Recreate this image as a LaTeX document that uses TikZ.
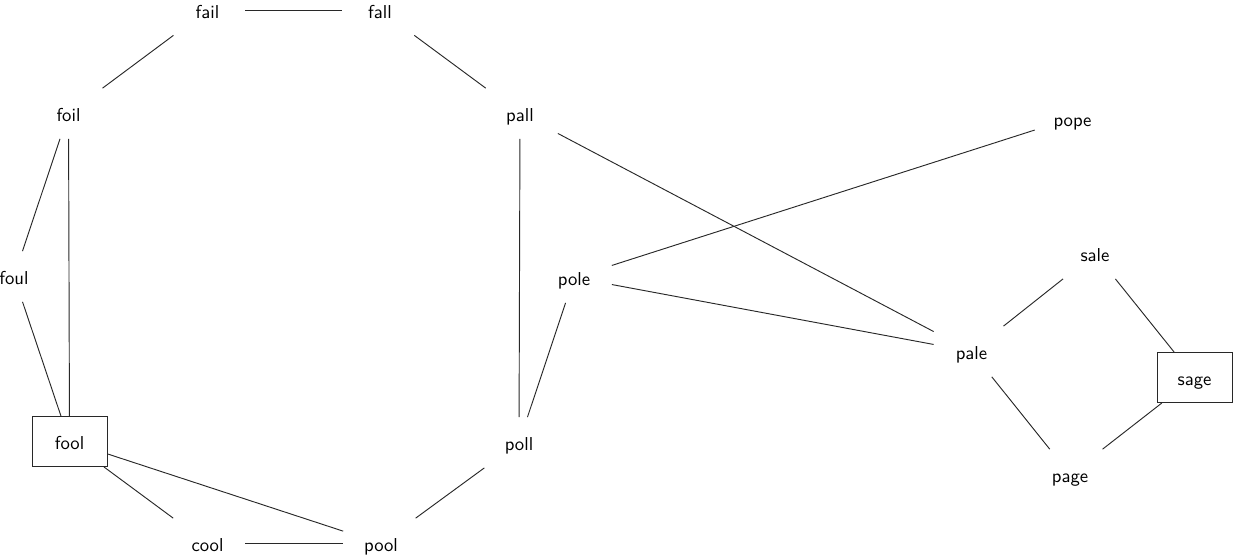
\documentclass[tikz,border=0pt]{standalone}
\usepackage{tikz}
\definecolor{CLN}{RGB}{40,40,40}

\begin{document}
\begin{tikzpicture}[font=\sffamily,
  word/.style={minimum width=1.41cm,minimum height=0.94cm,inner sep=0pt,
    text height=2.1ex,text depth=0.1ex},
  goal/.style={word,draw=CLN,line width=0.5pt},
  link/.style={draw=CLN,line width=0.5pt}]
  \useasboundingbox (0cm,0cm) rectangle (23.18cm,10.434cm);
  % left ring
  \node[word] (fail) at (3.901cm,10.246cm) {fail};
  \node[word] (fall) at (7.144cm,10.246cm) {fall};
  \node[word] (foil) at (1.288cm,8.300cm) {foil};
  \node[word] (pall) at (9.776cm,8.300cm) {pall};
  \node[word] (foul) at (0.263cm,5.236cm) {foul};
  \node[goal] (fool) at (1.307cm,2.134cm) {fool};
  \node[word] (poll) at (9.757cm,2.115cm) {poll};
  \node[word] (cool) at (3.901cm,0.216cm) {cool};
  \node[word] (pool) at (7.163cm,0.216cm) {pool};
  % middle and right
  \node[word] (pole) at (10.791cm,5.217cm) {pole};
  \node[word] (pope) at (20.163cm,8.216cm) {pope};
  \node[word] (sale) at (20.586cm,5.668cm) {sale};
  \node[word] (pale) at (18.264cm,3.826cm) {pale};
  \node[goal] (sage) at (22.457cm,3.337cm) {sage};
  \node[word] (page) at (20.116cm,1.513cm) {page};
  % edges
  \draw[link] (fail) -- (fall);
  \draw[link] (fail) -- (foil);
  \draw[link] (fall) -- (pall);
  \draw[link] (foil) -- (foul);
  \draw[link] (foil) -- (fool);
  \draw[link] (foul) -- (fool);
  \draw[link] (fool) -- (cool);
  \draw[link] (fool) -- (pool);
  \draw[link] (cool) -- (pool);
  \draw[link] (pool) -- (poll);
  \draw[link] (poll) -- (pall);
  \draw[link] (poll) -- (pole);
  \draw[link] (pall) -- (pale);
  \draw[link] (pole) -- (pope);
  \draw[link] (pole) -- (pale);
  \draw[link] (pale) -- (sale);
  \draw[link] (pale) -- (page);
  \draw[link] (sale) -- (sage);
  \draw[link] (page) -- (sage);
\end{tikzpicture}
\end{document}
